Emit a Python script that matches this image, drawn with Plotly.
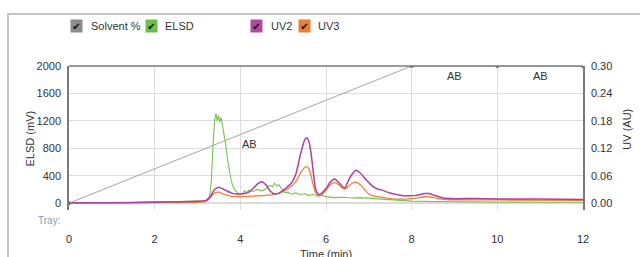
import plotly.graph_objects as go

# ---------------- data ----------------
solvent_t = [0, 8, 10, 12]
solvent_pct = [0, 100, 100, 100]

elsd_t = [0, 0.5, 1.0, 1.5, 1.8, 2.0, 2.2, 2.5, 2.8, 3.0, 3.2, 3.28, 3.32, 3.36, 3.40, 3.43,
          3.46, 3.49, 3.52, 3.55, 3.58, 3.62, 3.66, 3.70, 3.74, 3.78, 3.82, 3.86, 3.92, 3.98,
          4.05, 4.1, 4.15, 4.2, 4.3, 4.4, 4.5, 4.6, 4.7, 4.75, 4.8, 4.85, 4.9, 4.95, 5.0,
          5.05, 5.1, 5.2, 5.3, 5.4, 5.5, 5.6, 5.7, 5.8, 5.9, 6.0, 6.1, 6.2, 6.4, 6.6, 6.8,
          7.0, 7.2, 7.5, 7.8, 8.0, 8.5, 9.0, 10.0, 11.0, 12.0]
elsd_mv = [5, 5, 6, 8, 20, 25, 22, 25, 28, 30, 35, 80, 300, 800, 1200, 1310,
           1200, 1280, 1180, 1250, 1150, 1000, 850, 650, 480, 350, 260, 200, 160, 120,
           140, 180, 150, 190, 170, 200, 180, 210, 260, 240, 290, 250, 270, 220, 180,
           150, 160, 130, 150, 120, 140, 110, 130, 100, 115, 95, 90, 80, 85, 75, 80,
           70, 60, 50, 40, 30, 25, 20, 15, 12, 12]

uv2_t = [0, 1, 2, 2.5, 3.0, 3.2, 3.3, 3.4, 3.5, 3.6, 3.7, 3.8, 3.9, 4.0, 4.1, 4.2, 4.3,
         4.4, 4.5, 4.6, 4.7, 4.8, 4.9, 5.0, 5.1, 5.2, 5.3, 5.4, 5.5, 5.55, 5.6, 5.65, 5.7,
         5.75, 5.8, 5.85, 5.9, 6.0, 6.1, 6.2, 6.3, 6.4, 6.45, 6.5, 6.6, 6.7, 6.8, 6.9,
         7.0, 7.1, 7.2, 7.3, 7.5, 7.7, 7.9, 8.1, 8.3, 8.4, 8.5, 8.7, 8.9, 9.5, 10, 11, 12]
uv2_au = [0.001, 0.001, 0.002, 0.003, 0.004, 0.006, 0.015, 0.030, 0.035, 0.031, 0.026,
          0.022, 0.020, 0.020, 0.021, 0.024, 0.032, 0.042, 0.047, 0.040, 0.026, 0.020,
          0.022, 0.028, 0.036, 0.045, 0.065, 0.105, 0.138, 0.143, 0.135, 0.110, 0.070,
          0.035, 0.021, 0.019, 0.022, 0.032, 0.046, 0.053, 0.045, 0.035, 0.034, 0.045,
          0.062, 0.072, 0.066, 0.055, 0.045, 0.036, 0.031, 0.029, 0.022, 0.018, 0.016,
          0.017, 0.021, 0.021, 0.018, 0.012, 0.010, 0.010, 0.009, 0.009, 0.008]

uv3_t = [0, 2, 3.0, 3.2, 3.3, 3.4, 3.5, 3.6, 3.7, 3.8, 4.0, 4.2, 4.4, 4.6, 4.8, 5.0, 5.1,
         5.2, 5.3, 5.4, 5.5, 5.55, 5.6, 5.65, 5.7, 5.75, 5.8, 5.85, 5.9, 6.0, 6.1, 6.2,
         6.3, 6.4, 6.45, 6.5, 6.6, 6.7, 6.8, 6.9, 7.0, 7.1, 7.3, 7.6, 8.0, 8.3, 8.4, 8.6,
         8.8, 10, 12]
uv3_au = [0.000, 0.001, 0.002, 0.004, 0.012, 0.022, 0.024, 0.020, 0.017, 0.015, 0.014,
          0.015, 0.016, 0.017, 0.019, 0.025, 0.031, 0.038, 0.048, 0.065, 0.078, 0.080,
          0.075, 0.060, 0.040, 0.025, 0.018, 0.016, 0.018, 0.028, 0.040, 0.045, 0.040,
          0.032, 0.031, 0.035, 0.043, 0.046, 0.040, 0.030, 0.020, 0.016, 0.013, 0.009,
          0.010, 0.014, 0.014, 0.010, 0.008, 0.007, 0.006]

x_ticks = [0, 2, 4, 6, 8, 10, 12]
elsd_ticks = [0, 400, 800, 1200, 1600, 2000]
uv_ticks = [0.00, 0.06, 0.12, 0.18, 0.24, 0.30]

fraction_labels = ["AB", "AB", "AB"]
fraction_t = [4.22, 9, 11]
fraction_mv = [860, 1860, 1860]

legend_names = ["Solvent %", "ELSD", "UV2", "UV3"]
legend_colors = ["#8c8c8c", "#6cc04a", "#b3479f", "#f07c34"]

# ---------------- layout geometry ----------------
W, H = 640, 257
L, R, T, B = 69, 583, 66, 213


def px(x):
    return (x - L) / (R - L)


def py(y):
    return (B - y) / (B - T)


C_ELSD, C_UV2, C_UV3 = "#74c453", "#b0409f", "#f3803a"
FONT = "Liberation Sans, Arial, sans-serif"

fig = go.Figure()
fig.add_trace(go.Scatter(x=solvent_t, y=solvent_pct, yaxis="y3", mode="lines+markers",
                         line=dict(color="#a6a6a6", width=1),
                         marker=dict(size=4, color="#6a6a6a"), showlegend=False))
fig.add_trace(go.Scatter(x=elsd_t, y=elsd_mv, mode="lines",
                         line=dict(color=C_ELSD, width=1.1), showlegend=False))
fig.add_trace(go.Scatter(x=uv3_t, y=uv3_au, yaxis="y2", mode="lines",
                         line=dict(color=C_UV3, width=1.3, shape="spline", smoothing=0.6),
                         showlegend=False))
fig.add_trace(go.Scatter(x=uv2_t, y=uv2_au, yaxis="y2", mode="lines",
                         line=dict(color=C_UV2, width=1.5, shape="spline", smoothing=0.6),
                         showlegend=False))

ann = []
for lab, t, v in zip(fraction_labels, fraction_t, fraction_mv):
    ann.append(dict(x=t, y=v, xref="x", yref="y", text=lab, showarrow=False,
                    font=dict(size=11, color="#333333", family=FONT)))

# custom legend with check boxes
box_x = [76.5, 151.5, 256.5, 304.5]
text_x = [88.5, 162.5, 268.5, 316]
LEG_Y = 25
for name, col, bx, tx in zip(legend_names, legend_colors, box_x, text_x):
    ann.append(dict(x=px(bx), y=py(LEG_Y), xref="paper", yref="paper", text="✔",
                    showarrow=False, bgcolor=col, width=11, height=12, borderpad=0,
                    font=dict(size=10, color="#111111", family="DejaVu Sans"),
                    xanchor="center", yanchor="middle"))
    ann.append(dict(x=px(tx), y=py(LEG_Y), xref="paper", yref="paper", text=name,
                    showarrow=False, xanchor="left", yanchor="middle",
                    font=dict(size=11, color="#333333", family=FONT)))

ann.append(dict(x=px(62), y=py(224), xref="paper", yref="paper", text="Tray:",
                showarrow=False, xanchor="right", yanchor="middle",
                font=dict(size=10, color="#8d9cad", family=FONT)))
ann.append(dict(x=px(30), y=py(140), xref="paper", yref="paper", text="ELSD (mV)",
                textangle=-90, showarrow=False, xanchor="center", yanchor="middle",
                font=dict(size=11, color="#333333", family=FONT)))
ann.append(dict(x=px(627), y=py(131), xref="paper", yref="paper", text="UV (AU)",
                textangle=-90, showarrow=False, xanchor="center", yanchor="middle",
                font=dict(size=11, color="#333333", family=FONT)))
ann.append(dict(x=px(326), y=py(250), xref="paper", yref="paper", text="Time (min)",
                showarrow=False, xanchor="center", yanchor="top",
                font=dict(size=11, color="#333333", family=FONT)))

shapes = [
    dict(type="rect", xref="paper", yref="paper", x0=px(8), y0=py(13), x1=px(700),
         y1=py(300), line=dict(color="#c4c4c4", width=2), layer="below"),
    dict(type="line", xref="paper", yref="paper", x0=0, x1=1, y0=1, y1=1,
         line=dict(color="#7a7a7a", width=1.5)),
]

fig.update_layout(
    width=W, height=H,
    margin=dict(l=L, r=W - R, t=T, b=H - B, pad=0),
    paper_bgcolor="white", plot_bgcolor="white",
    font=dict(family=FONT, size=11, color="#333333"),
    xaxis=dict(range=[0, 12], tickvals=x_ticks, ticktext=[str(v) for v in x_ticks],
               showgrid=True, gridcolor="#dcdcdc", gridwidth=1, zeroline=False,
               showline=False, ticks="", ticklabelstandoff=21,
               tickfont=dict(size=11, color="#333333")),
    yaxis=dict(range=[-100, 2000], tickvals=elsd_ticks, ticktext=[str(v) for v in elsd_ticks],
               showgrid=True, gridcolor="#dcdcdc", zeroline=True, zerolinecolor="#dcdcdc",
               showline=True, linecolor="#7a7a7a", linewidth=1.5, ticks="",
               ticklabelstandoff=4, tickfont=dict(size=11, color="#333333")),
    yaxis2=dict(range=[-0.015, 0.30], tickvals=uv_ticks,
                ticktext=["%.2f" % v for v in uv_ticks], overlaying="y", side="right",
                showgrid=False, zeroline=False, showline=True, linecolor="#7a7a7a",
                linewidth=1.5, ticks="", ticklabelstandoff=4,
                tickfont=dict(size=11, color="#333333")),
    yaxis3=dict(range=[-5, 100], overlaying="y", visible=False),
    annotations=ann, shapes=shapes, showlegend=False,
)

fig.write_html("out.html", config={"displayModeBar": False},
               post_script="document.body.style.margin='0';document.body.style.overflow='hidden';")
